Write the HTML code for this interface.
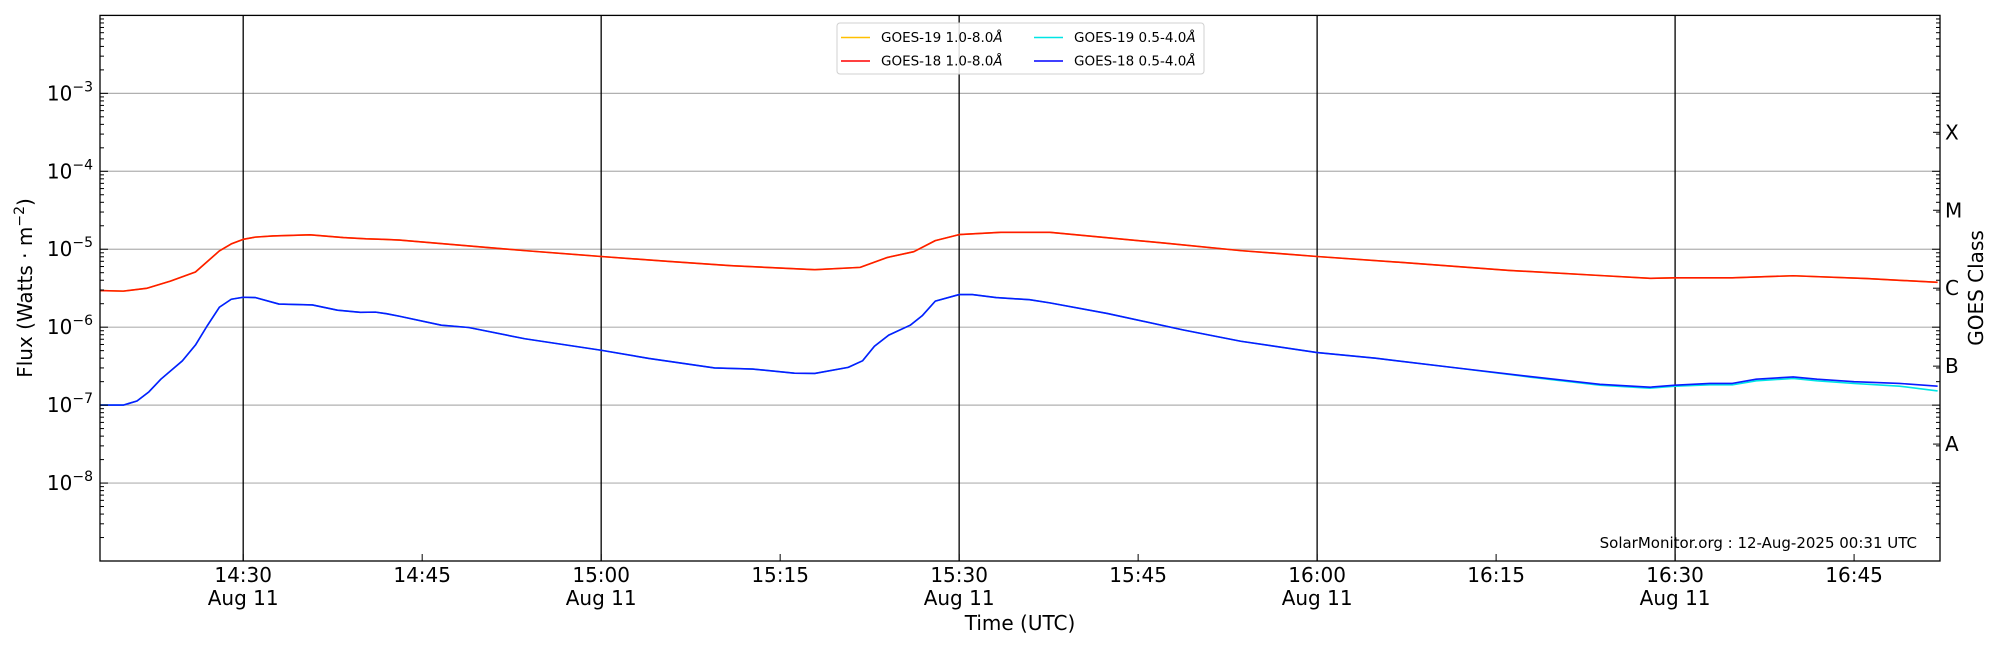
<!DOCTYPE html>
<html><head><meta charset="utf-8"><style>
html,body{margin:0;padding:0;background:#fff;}
svg{display:block;font-family:"DejaVu Sans","Liberation Sans",sans-serif;}
</style></head><body>
<svg id="chart" width="2000" height="650" viewBox="0 0 2000 650" xmlns="http://www.w3.org/2000/svg">
<rect x="0" y="0" width="2000" height="650" fill="#fff"/>
<g id="grid"></g>
<g id="series"></g>
<g id="axes"></g>
<text x="1917" y="548" font-size="15" text-anchor="end" fill="#000">SolarMonitor.org : 12-Aug-2025 00:31 UTC</text>
<text x="1020" y="630" font-size="20" text-anchor="middle">Time (UTC)</text>
<text transform="translate(32,288) rotate(-90)" font-size="20" text-anchor="middle">Flux (Watts · m<tspan font-size="14" dy="-8">−2</tspan><tspan dy="8">)</tspan></text>
<text transform="translate(1983,288) rotate(-90)" font-size="20" text-anchor="middle">GOES Class</text>
<g>
<rect x="837" y="23" width="367" height="51" rx="3" fill="#fff" fill-opacity="0.85" stroke="#d0d0d0" stroke-width="1"/>
<line x1="841" y1="37.5" x2="870" y2="37.5" stroke="#ffc000" stroke-width="1.5"/>
<text x="881" y="42" font-size="13.5">GOES-19 1.0-8.0<tspan font-style="italic">Å</tspan></text>
<line x1="841" y1="61" x2="870" y2="61" stroke="#ff0000" stroke-width="1.5"/>
<text x="881" y="65.5" font-size="13.5">GOES-18 1.0-8.0<tspan font-style="italic">Å</tspan></text>
<line x1="1034" y1="37.5" x2="1063" y2="37.5" stroke="#00e5e5" stroke-width="1.5"/>
<text x="1074" y="42" font-size="13.5">GOES-19 0.5-4.0<tspan font-style="italic">Å</tspan></text>
<line x1="1034" y1="61" x2="1063" y2="61" stroke="#0000ff" stroke-width="1.5"/>
<text x="1074" y="65.5" font-size="13.5">GOES-18 0.5-4.0<tspan font-style="italic">Å</tspan></text>
</g>
</svg>
<script>
// minutes since 14:18 UTC
const longTimes = [0,1.95,3.9,5.9,8.0,10.0,11.0,12.0,13.0,14.5,17.6,20.4,22.3,23.7,25.1,35.6,42.0,47.7,52.9,59.9,63.7,66.0,68.2,70.0,72.0,75.5,79.6,89.2,95.6,102.0,110.1,118.1,125.7,129.9,132,136.8,141.9,148.1,154.0];
const goes18Long = [2.95e-6,2.9e-6,3.15e-6,3.9e-6,5.1e-6,9.5e-6,1.17e-5,1.34e-5,1.43e-5,1.48e-5,1.53e-5,1.41e-5,1.36e-5,1.34e-5,1.31e-5,9.6e-6,8.07e-6,6.97e-6,6.15e-6,5.47e-6,5.85e-6,7.85e-6,9.3e-6,1.29e-5,1.54e-5,1.65e-5,1.65e-5,1.2e-5,9.6e-6,8.07e-6,6.6e-6,5.35e-6,4.6e-6,4.23e-6,4.3e-6,4.3e-6,4.57e-6,4.2e-6,3.76e-6];
const goes19Long = [2.95e-6,2.9e-6,3.15e-6,3.9e-6,5.1e-6,9.5e-6,1.17e-5,1.34e-5,1.43e-5,1.48e-5,1.53e-5,1.41e-5,1.36e-5,1.34e-5,1.31e-5,9.6e-6,8.07e-6,6.97e-6,6.15e-6,5.47e-6,5.85e-6,7.85e-6,9.3e-6,1.29e-5,1.54e-5,1.65e-5,1.65e-5,1.2e-5,9.6e-6,8.07e-6,6.6e-6,5.35e-6,4.6e-6,4.23e-6,4.3e-6,4.3e-6,4.57e-6,4.2e-6,3.76e-6];
const shortTimes = [0,1.95,3.1,4.1,5.1,6.9,8.0,9.0,10.0,11.0,12.0,13.0,15.0,17.8,19.9,21.8,23.1,24.0,25.1,28.6,30.9,35.6,42.0,46.0,51.5,54.7,58.2,59.9,62.7,63.9,64.9,66.1,67.9,68.9,70.0,72.0,73.1,75.1,77.9,79.6,84.4,90.8,95.6,102.0,106.9,113.3,119.7,125.7,129.9,132,134.9,136.8,138.8,141.9,143.9,147.0,150.8,154.0];
const goes18Short = [1.0e-7,1.0e-7,1.13e-7,1.48e-7,2.15e-7,3.7e-7,5.9e-7,1.05e-6,1.8e-6,2.28e-6,2.42e-6,2.4e-6,1.98e-6,1.93e-6,1.65e-6,1.55e-6,1.56e-6,1.49e-6,1.38e-6,1.06e-6,9.9e-7,7.1e-7,5.06e-7,3.97e-7,3.0e-7,2.9e-7,2.57e-7,2.55e-7,3.05e-7,3.7e-7,5.7e-7,7.9e-7,1.06e-6,1.4e-6,2.16e-6,2.62e-6,2.62e-6,2.4e-6,2.25e-6,2.05e-6,1.5e-6,9.2e-7,6.6e-7,4.72e-7,4.0e-7,3.05e-7,2.34e-7,1.85e-7,1.7e-7,1.8e-7,1.9e-7,1.9e-7,2.15e-7,2.3e-7,2.15e-7,2.0e-7,1.9e-7,1.75e-7];
const goes19Short = [1.0e-7,1.0e-7,1.13e-7,1.48e-7,2.15e-7,3.7e-7,5.9e-7,1.05e-6,1.8e-6,2.28e-6,2.42e-6,2.4e-6,1.98e-6,1.93e-6,1.65e-6,1.55e-6,1.56e-6,1.49e-6,1.38e-6,1.06e-6,9.9e-7,7.1e-7,5.06e-7,3.97e-7,3.0e-7,2.9e-7,2.57e-7,2.55e-7,3.05e-7,3.7e-7,5.7e-7,7.9e-7,1.06e-6,1.4e-6,2.16e-6,2.62e-6,2.62e-6,2.4e-6,2.25e-6,2.05e-6,1.5e-6,9.2e-7,6.6e-7,4.72e-7,4.0e-7,3.05e-7,2.3e-7,1.8e-7,1.65e-7,1.75e-7,1.82e-7,1.82e-7,2.05e-7,2.2e-7,2.05e-7,1.9e-7,1.75e-7,1.52e-7];
const xTickMinutes = [12,27,42,57,72,87,102,117,132,147];
const xTickLabels = ["14:30","14:45","15:00","15:15","15:30","15:45","16:00","16:15","16:30","16:45"];
const xTickDates = ["Aug 11","","Aug 11","","Aug 11","","Aug 11","","Aug 11",""];
const dayLineMinutes = [12,42,72,102,132];
const yDecades = [-8,-7,-6,-5,-4,-3];
const classLabels = ["A","B","C","M","X"];
const classLogs = [-7.5,-6.5,-5.5,-4.5,-3.5];

const NS="http://www.w3.org/2000/svg";
const L=100,R=1940,T=15.4,B=561;
const xMin=0,xMax=154.2,logMax=-2,logMin=-9;
function xs(t){return L+(t-xMin)/(xMax-xMin)*(R-L);}
function ys(v){return T+(logMax-Math.log10(v))/(logMax-logMin)*(B-T);}
function yl(lg){return T+(logMax-lg)/(logMax-logMin)*(B-T);}
function mk(tag,attrs,parent){const e=document.createElementNS(NS,tag);for(const k in attrs)e.setAttribute(k,attrs[k]);parent.appendChild(e);return e;}
const grid=document.getElementById('grid'),series=document.getElementById('series'),axes=document.getElementById('axes');

yDecades.forEach(d=>{
  const g=mk('line',{x1:L,x2:R,y1:yl(d),y2:yl(d),stroke:'#b0b0b0','stroke-width':1.2},grid);
  
  
});
dayLineMinutes.forEach(m=>{
  const g=mk('line',{x1:xs(m),x2:xs(m),y1:T,y2:B,stroke:'#000','stroke-width':1.3},grid);
  
  
});

function drawLine(times,vals,color,name){
  let d='';
  times.forEach((t,i)=>{d+=(i?'L':'M')+xs(t).toFixed(2)+','+ys(vals[i]).toFixed(2);});
  const p=mk('path',{d:d,fill:'none',stroke:color,'stroke-width':1.6,'stroke-linejoin':'round'},series);
  
  
}
drawLine(longTimes,goes19Long,'#ffc000','goes19-long-line');
drawLine(longTimes,goes18Long,'#ff1a00','goes18-long-line');
drawLine(shortTimes,goes19Short,'#00e5e5','goes19-short-line');
drawLine(shortTimes,goes18Short,'#0a1aff','goes18-short-line');

const fr=mk('rect',{x:L,y:T,width:R-L,height:B-T,fill:'none',stroke:'#000','stroke-width':1.3},axes);



for(let d=-9;d<-2;d++){
  for(let m=1;m<=9;m++){
    const lg=d+Math.log10(m);const y=yl(lg);
    const len=m===1?8:4;
    const a=mk('line',{x1:L,x2:L+len,y1:y,y2:y,stroke:'#000','stroke-width':1},axes);
    
    
    const b=mk('line',{x1:R,x2:R-len,y1:y,y2:y,stroke:'#000','stroke-width':1},axes);
    
    
  }
}
yDecades.forEach(d=>{
  const t=mk('text',{x:93,y:yl(d)+7,'font-size':20,'text-anchor':'end'},axes);
  
  
  t.innerHTML='10<tspan font-size="14" dy="-9">−'+(-d)+'</tspan>';
});
classLabels.forEach((c,i)=>{
  const y=yl(classLogs[i]);
  const k=mk('line',{x1:R,x2:R-7,y1:y,y2:y,stroke:'#000','stroke-width':1},axes);
  
  
  const t=mk('text',{x:R+5,y:y+7,'font-size':20},axes);
  
  
  t.textContent=c;
});
xTickMinutes.forEach((m,i)=>{
  const x=xs(m);
  const k=mk('line',{x1:x,x2:x,y1:B,y2:B-7,stroke:'#000','stroke-width':1},axes);
  
  
  const t=mk('text',{x:x,y:582,'font-size':20,'text-anchor':'middle'},axes);
  
  
  t.textContent=xTickLabels[i];
  if(xTickDates[i]){
    const t2=mk('text',{x:x,y:605,'font-size':20,'text-anchor':'middle'},axes);
    
    
    t2.textContent=xTickDates[i];
  }
});
</script>
</body></html>
